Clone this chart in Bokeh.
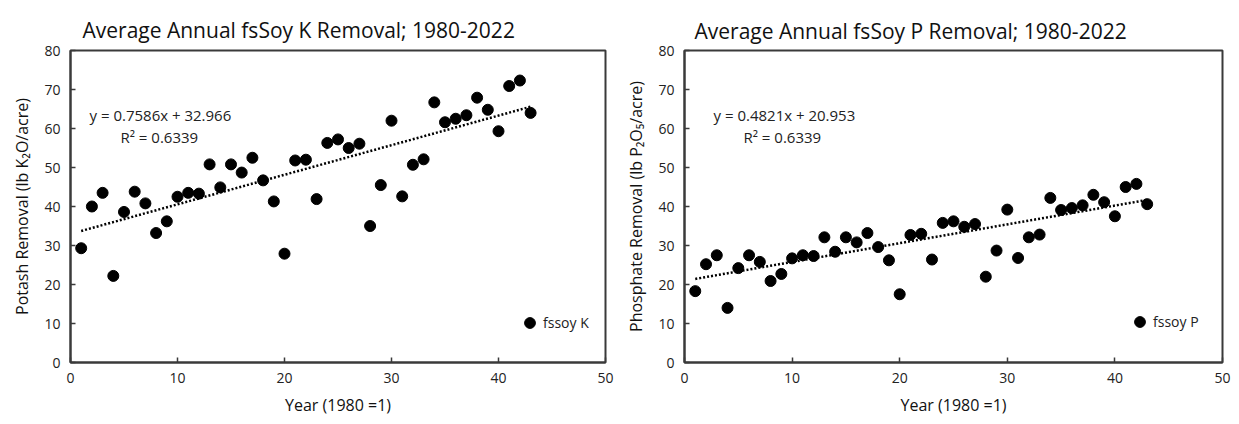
from bokeh.plotting import figure
from bokeh.layouts import row
from bokeh.models import Range1d, FixedTicker, Label, Legend, LegendItem
from bokeh.embed import file_html
from bokeh.resources import INLINE

years = list(range(1, 44))
k_removal = [29.3, 40.0, 43.5, 22.2, 38.6, 43.8, 40.8, 33.2, 36.2, 42.5,
             43.5, 43.3, 50.8, 44.9, 50.8, 48.7, 52.5, 46.7, 41.3, 27.9,
             51.8, 52.0, 41.9, 56.3, 57.2, 55.0, 56.1, 35.0, 45.5, 62.0,
             42.6, 50.7, 52.1, 66.7, 61.6, 62.5, 63.4, 67.9, 64.8, 59.3,
             70.9, 72.3, 64.0]
p_removal = [18.3, 25.2, 27.5, 14.0, 24.2, 27.5, 25.8, 20.9, 22.7, 26.7,
             27.5, 27.3, 32.1, 28.4, 32.1, 30.8, 33.2, 29.6, 26.2, 17.5,
             32.7, 33.0, 26.4, 35.8, 36.2, 34.8, 35.5, 22.0, 28.7, 39.2,
             26.8, 32.1, 32.8, 42.2, 39.1, 39.6, 40.3, 43.0, 41.1, 37.5,
             45.0, 45.8, 40.6]
x_ticks = [0, 10, 20, 30, 40, 50]
y_ticks = [0, 10, 20, 30, 40, 50, 60, 70, 80]
k_slope, k_intercept, k_r2 = 0.7586, 32.966, 0.6339
p_slope, p_intercept, p_r2 = 0.4821, 20.953, 0.6339

FONT = "Open Sans"
DARK = "#3a3a3a"
FRAME_H = 312


def make(title, ylabel, yvals, slope, intercept, r2, legend_label,
         border_left, frame_w, border_right, title_offset, title_valign,
         eq_pos, r2_pos, legend_pos):
    p = figure(frame_width=frame_w, frame_height=FRAME_H,
               x_range=Range1d(0, 50), y_range=Range1d(0, 80),
               output_backend="svg", toolbar_location=None,
               min_border_left=border_left, min_border_right=border_right,
               min_border_top=50, min_border_bottom=54, title=title)
    p.title.text_font = FONT
    p.title.text_font_size = "21px"
    p.title.text_font_style = "normal"
    p.title.text_color = "#111111"
    p.title.align = "left"
    p.title.offset = title_offset
    p.title.standoff = 10
    p.title.vertical_align = title_valign
    p.grid.visible = False
    p.outline_line_color = DARK
    p.outline_line_width = 2
    p.outline_line_alpha = 1
    p.xaxis.ticker = FixedTicker(ticks=x_ticks)
    p.yaxis.ticker = FixedTicker(ticks=y_ticks)
    for ax in (p.xaxis[0], p.yaxis[0]):
        ax.axis_line_color = DARK
        ax.axis_line_width = 2
        ax.major_tick_in = 5
        ax.major_tick_out = 0
        ax.major_tick_line_color = DARK
        ax.major_tick_line_width = 1.5
        ax.minor_tick_line_color = None
        ax.major_label_text_font = FONT
        ax.major_label_text_font_size = "14px"
        ax.major_label_text_color = "#222222"
        ax.axis_label_text_font = FONT
        ax.axis_label_text_font_size = "16px"
        ax.axis_label_text_font_style = "normal"
        ax.axis_label_text_color = "#111111"
        ax.major_label_standoff = 10
        ax.axis_label_standoff = 8
    p.xaxis.axis_label = "Year (1980 =1)"
    p.yaxis.axis_label = ylabel

    x0, x1 = years[0], years[-1]
    p.line([x0, x1], [slope * x0 + intercept, slope * x1 + intercept],
           line_color="black", line_width=2.5, line_dash="2 2")
    r = p.scatter(years, yvals, size=11, color="black", marker="circle")

    p.add_layout(Label(x=eq_pos[0], y=eq_pos[1], x_units="screen", y_units="screen",
                       text=f"y = {slope}x + {intercept}", text_font=FONT,
                       text_font_size="15px", text_color="#222222",
                       text_baseline="middle"))
    p.add_layout(Label(x=r2_pos[0], y=r2_pos[1], x_units="screen", y_units="screen",
                       text=f"R\u00b2 = {r2}", text_font=FONT,
                       text_font_size="15px", text_color="#222222",
                       text_baseline="middle"))

    leg = Legend(items=[LegendItem(label=legend_label, renderers=[r])],
                 location=legend_pos, border_line_alpha=0,
                 background_fill_alpha=0, padding=0, margin=0,
                 glyph_width=27, glyph_height=27, label_standoff=0,
                 label_text_font=FONT, label_text_font_size="14px",
                 label_text_color="#222222")
    p.add_layout(leg, "center")
    return p


p1 = make("Average Annual fsSoy K Removal; 1980-2022",
          "Potash Removal (lb K\u2082O/acre)", k_removal,
          k_slope, k_intercept, k_r2, "fssoy K",
          70, 535, 15, 12, "top", (19, 248), (50, 226), (446, 26))
p2 = make("Average Annual fsSoy P Removal; 1980-2022",
          "Phosphate Removal (lb P\u2082O\u2085/acre)", p_removal,
          p_slope, p_intercept, p_r2, "fssoy P",
          64, 538, 9, 10, "middle", (29, 248), (59, 226), (442, 27))

layout = row(p1, p2)
open("out.html", "w").write(file_html(layout, INLINE))
